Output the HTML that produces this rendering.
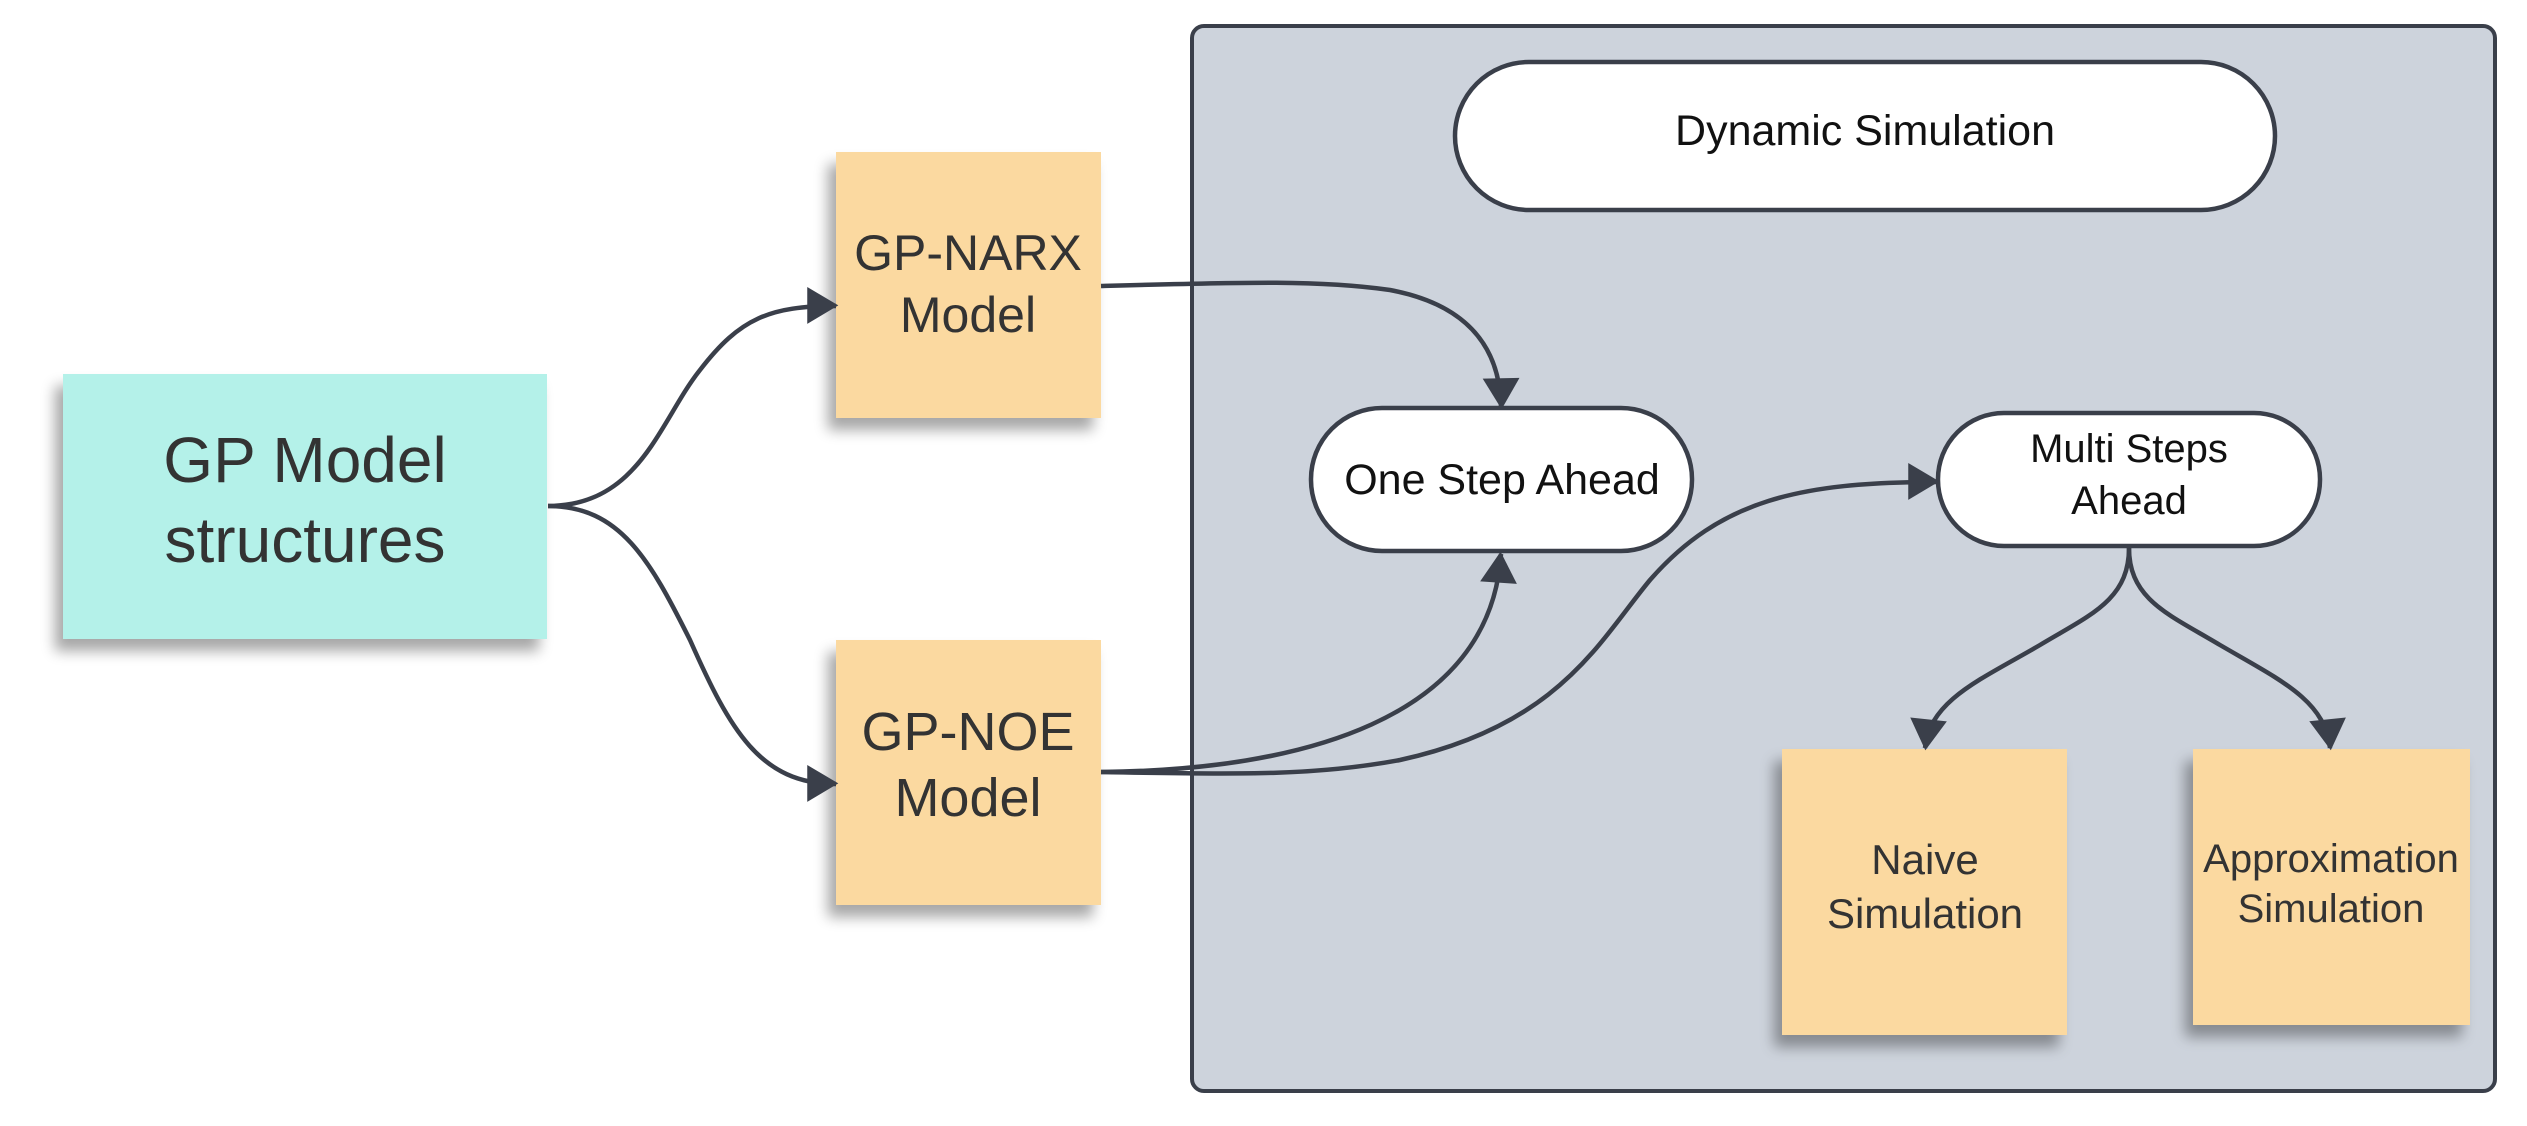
<!DOCTYPE html>
<html><head><meta charset="utf-8"><style>
html,body{margin:0;padding:0;background:#fff;}
svg{display:block;}
text{font-family:"Liberation Sans",sans-serif;}
</style></head><body>
<svg width="2527" height="1126" viewBox="0 0 2527 1126" xmlns="http://www.w3.org/2000/svg">
<defs>
<marker id="a" viewBox="0 0 10 10" refX="9" refY="5" markerWidth="10" markerHeight="10" markerUnits="userSpaceOnUse" orient="auto" style="overflow:visible">
<path d="M-18,-11 L9,5 L-18,21 Z" transform="translate(9,5) scale(1.15) translate(-9,-5) translate(2,-0.5)" fill="#3a3f4a"/>
</marker>
<filter id="sh" x="-20%" y="-20%" width="140%" height="150%">
<feGaussianBlur in="SourceAlpha" stdDeviation="7"/>
<feOffset dx="-8" dy="12"/>
<feComponentTransfer><feFuncA type="linear" slope="0.35"/></feComponentTransfer>
<feMerge><feMergeNode/><feMergeNode in="SourceGraphic"/></feMerge>
</filter>
</defs>

<rect x="1192" y="26" width="1303" height="1065" rx="12" fill="#cdd3dc" stroke="#3a3f4a" stroke-width="4"/>

<rect x="1455" y="62" width="820" height="148" rx="74" fill="#fff" stroke="#3a3f4a" stroke-width="4.5"/>
<text x="1865" y="145" font-size="43" text-anchor="middle" fill="#111">Dynamic Simulation</text>

<rect x="1311" y="408" width="381" height="143" rx="71" fill="#fff" stroke="#3a3f4a" stroke-width="4.5"/>
<text x="1502" y="494" font-size="43" text-anchor="middle" fill="#111">One Step Ahead</text>

<rect x="1938" y="413" width="382" height="133" rx="66" fill="#fff" stroke="#3a3f4a" stroke-width="4.5"/>
<text x="2129" y="462" font-size="40" text-anchor="middle" fill="#111">Multi Steps</text>
<text x="2129" y="514" font-size="40" text-anchor="middle" fill="#111">Ahead</text>

<g filter="url(#sh)">
<rect x="63" y="374" width="484" height="265" fill="#b4f1e9"/>
<rect x="836" y="152" width="265" height="266" fill="#fbd9a0"/>
<rect x="836" y="640" width="265" height="265" fill="#fbd9a0"/>
<rect x="1782" y="749" width="285" height="286" fill="#fbd9a0"/>
<rect x="2193" y="749" width="277" height="276" fill="#fbd9a0"/>
</g>
<text x="305" y="482" font-size="64" text-anchor="middle" fill="#333">GP Model</text>
<text x="305" y="562" font-size="64" text-anchor="middle" fill="#333">structures</text>
<text x="968" y="270" font-size="50" text-anchor="middle" fill="#333">GP-NARX</text>
<text x="968" y="332" font-size="50" text-anchor="middle" fill="#333">Model</text>
<text x="968" y="750" font-size="54" text-anchor="middle" fill="#333">GP-NOE</text>
<text x="968" y="816" font-size="54" text-anchor="middle" fill="#333">Model</text>
<text x="1925" y="874" font-size="42" text-anchor="middle" fill="#333">Naive</text>
<text x="1925" y="928" font-size="42" text-anchor="middle" fill="#333">Simulation</text>
<text x="2331" y="872" font-size="40" text-anchor="middle" fill="#333">Approximation</text>
<text x="2331" y="922" font-size="40" text-anchor="middle" fill="#333">Simulation</text>

<g fill="none" stroke="#3a3f4a" stroke-width="4.5">
<path d="M548,506 C640,506 660,420 700,370 C740,318 770,306 836,306" marker-end="url(#a)"/>
<path d="M548,506 C620,506 650,560 690,640 C730,730 760,784 836,784" marker-end="url(#a)"/>
<path d="M1101,286 C1250,282 1320,280 1390,290 C1470,305 1500,350 1501,407" marker-end="url(#a)"/>
<path d="M1101,772 C1300,770 1490,720 1501,554" marker-end="url(#a)"/>
<path d="M1101,772 C1250,775 1320,775 1400,760 C1560,725 1600,640 1650,580 C1720,500 1800,482 1937,482" marker-end="url(#a)"/>
<path d="M2129,548 C2129,600 2090,615 2040,645 C1980,680 1930,700 1925,748" marker-end="url(#a)"/>
<path d="M2129,548 C2129,600 2170,615 2220,645 C2280,680 2325,700 2330,748" marker-end="url(#a)"/>
</g>
</svg>
</body></html>
